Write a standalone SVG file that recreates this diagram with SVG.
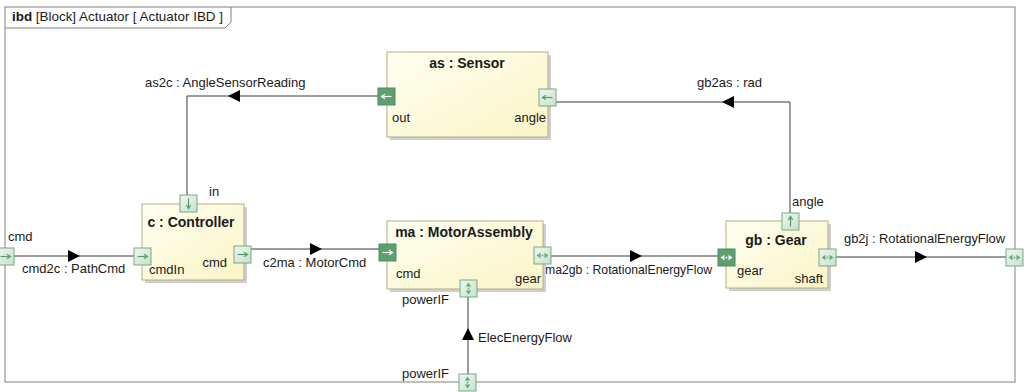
<svg xmlns="http://www.w3.org/2000/svg" width="1029" height="392" viewBox="0 0 1029 392">
<style>
text{font-family:"Liberation Sans",Arial,sans-serif;font-size:13px;fill:#1a1a1a}
.t{font-weight:bold;font-size:14px;text-anchor:middle}
.e{text-anchor:end}
.blk{fill:url(#bg);stroke:#b5ad82;stroke-width:1}
.sh{fill:#cfcfcf}
.pl{fill:url(#pg);stroke:#7aa886;stroke-width:1}
.pd{fill:#5e9f70;stroke:#4f8a60;stroke-width:1}
.ic{stroke:#5a9a68;stroke-width:1.2;fill:none}
.icw{stroke:#ffffff;stroke-width:1.2;fill:none}
.hd{fill:#6aa877}
.hw{fill:#ffffff}
.cn{fill:none;stroke:#3a3a3a;stroke-width:1}
.ah{fill:#000}
</style>
<defs>
<linearGradient id="bg" x1="0" y1="0" x2="1" y2="1">
<stop offset="0" stop-color="#fffff2"/>
<stop offset="1" stop-color="#fbf5c6"/>
</linearGradient>
<linearGradient id="pg" x1="0" y1="0" x2="1" y2="1">
<stop offset="0" stop-color="#eef7f0"/>
<stop offset="1" stop-color="#c6e2cd"/>
</linearGradient>
<g id="pR"><path d="M3.5,8.5 H12"/><path d="M10,6.3 L13.5,8.5 L10,10.7"/></g>
<g id="pL"><path d="M5,8.5 H13.5"/><path d="M7,6.3 L3.5,8.5 L7,10.7"/></g>
<g id="pD"><path d="M8.5,3.5 V12"/><path d="M6.3,10 L8.5,13.5 L10.7,10"/></g>
<g id="pU"><path d="M8.5,5 V13.5"/><path d="M6.3,7 L8.5,3.5 L10.7,7"/></g>
<g id="pH"><path d="M2.5,8.5 L6.5,5.8 V11.2 Z M14.5,8.5 L10.5,5.8 V11.2 Z"/><rect x="7.7" y="7.7" width="1.6" height="1.6"/></g>
<g id="pV"><path d="M8.5,2.5 L5.8,6.5 H11.2 Z M8.5,14.5 L5.8,10.5 H11.2 Z"/><rect x="7.7" y="7.7" width="1.6" height="1.6"/></g>
</defs>
<rect x="0" y="0" width="1029" height="392" fill="#ffffff"/>

<g id="frame">
<rect x="5" y="7" width="1010" height="375" fill="none" stroke="#808080" stroke-width="1"/>
<path d="M5,28 H225 L231,22 V7" fill="none" stroke="#808080" stroke-width="1"/>
<text x="12" y="21" textLength="211" lengthAdjust="spacingAndGlyphs"><tspan font-weight="bold">ibd</tspan> [Block] Actuator [ Actuator IBD ]</text>
</g>

<g id="connectors">
<path class="cn" d="M378,96 H187 V195"/>
<path class="ah" d="M228,96 L240,90 V102 Z"/>
<text x="145" y="87">as2c : AngleSensorReading</text>
<path class="cn" d="M556,102 H790 V213"/>
<path class="ah" d="M722,102 L734,96 V108 Z"/>
<text x="697" y="87">gb2as : rad</text>
<path class="cn" d="M14,256 H134"/>
<path class="ah" d="M80,256 L68,250 V262 Z"/>
<text x="22" y="273">cmd2c : PathCmd</text>
<path class="cn" d="M251,249 H379"/>
<path class="ah" d="M322,249 L310,243 V255 Z"/>
<text x="263" y="267">c2ma : MotorCmd</text>
<path class="cn" d="M551,256 H718"/>
<path class="ah" d="M642,256 L630,250 V262 Z"/>
<text x="545" y="274" textLength="167" lengthAdjust="spacingAndGlyphs">ma2gb : RotationalEnergyFlow</text>
<path class="cn" d="M836,257 H1006"/>
<path class="ah" d="M927,257 L915,251 V263 Z"/>
<text x="844" y="243" textLength="161" lengthAdjust="spacingAndGlyphs">gb2j : RotationalEnergyFlow</text>
<path class="cn" d="M468,374 V297"/>
<path class="ah" d="M468,328 L462,340 H474 Z"/>
<text x="478" y="342">ElecEnergyFlow</text>
</g>

<g id="sensor">
<rect class="sh" x="390" y="55" width="161" height="85"/>
<rect class="blk" x="387" y="52" width="161" height="85"/>
<text class="t" x="467" y="68">as : Sensor</text>
<rect class="pd" x="378" y="88" width="17" height="17"/>
<use href="#pL" x="378" y="88" class="icw"/>
<rect class="pl" x="539" y="89" width="17" height="17"/>
<use href="#pL" x="539" y="89" class="ic"/>
<text x="392" y="122">out</text>
<text class="e" x="546" y="122">angle</text>
</g>

<g id="controller">
<rect class="sh" x="145" y="207" width="102" height="76"/>
<rect class="blk" x="142" y="204" width="102" height="76"/>
<text class="t" x="191" y="227">c : Controller</text>
<rect class="pl" x="180" y="195" width="17" height="17"/>
<use href="#pD" x="180" y="195" class="ic"/>
<rect class="pl" x="134" y="248" width="17" height="17"/>
<use href="#pR" x="134" y="248" class="ic"/>
<rect class="pl" x="234" y="246" width="17" height="17"/>
<use href="#pR" x="234" y="246" class="ic"/>
<text x="209" y="196">in</text>
<text x="149" y="274">cmdIn</text>
<text class="e" x="227" y="267">cmd</text>
</g>

<g id="motorassembly">
<rect class="sh" x="390" y="224" width="156" height="68"/>
<rect class="blk" x="387" y="221" width="156" height="68"/>
<text class="t" x="464" y="237">ma : MotorAssembly</text>
<rect class="pd" x="379" y="244" width="17" height="17"/>
<use href="#pR" x="379" y="244" class="icw"/>
<rect class="pl" x="534" y="247" width="17" height="17"/>
<use href="#pH" x="534" y="247" class="hd"/>
<rect class="pl" x="460" y="280" width="17" height="17"/>
<use href="#pV" x="460" y="280" class="hd"/>
<text x="396" y="278">cmd</text>
<text class="e" x="541" y="283">gear</text>
<text x="402" y="304">powerIF</text>
</g>

<g id="gear">
<rect class="sh" x="729" y="224" width="102" height="67"/>
<rect class="blk" x="726" y="221" width="102" height="67"/>
<text class="t" x="776" y="245">gb : Gear</text>
<rect class="pd" x="718" y="249" width="17" height="17"/>
<use href="#pH" x="718" y="249" class="hw"/>
<rect class="pl" x="782" y="213" width="17" height="17"/>
<use href="#pU" x="782" y="213" class="ic"/>
<rect class="pl" x="819" y="249" width="17" height="17"/>
<use href="#pH" x="819" y="249" class="hd"/>
<text x="792" y="206">angle</text>
<text x="737" y="275">gear</text>
<text class="e" x="823" y="283">shaft</text>
</g>

<g id="boundary-ports">
<rect class="pl" x="-3" y="248" width="17" height="17"/>
<use href="#pR" x="-3" y="248" class="ic"/>
<text x="8" y="241">cmd</text>
<rect class="pl" x="1006" y="249" width="17" height="17"/>
<use href="#pH" x="1006" y="249" class="hd"/>
<rect class="pl" x="459" y="374" width="17" height="17"/>
<use href="#pV" x="459" y="374" class="hd"/>
<text x="402" y="378">powerIF</text>
</g>
</svg>
